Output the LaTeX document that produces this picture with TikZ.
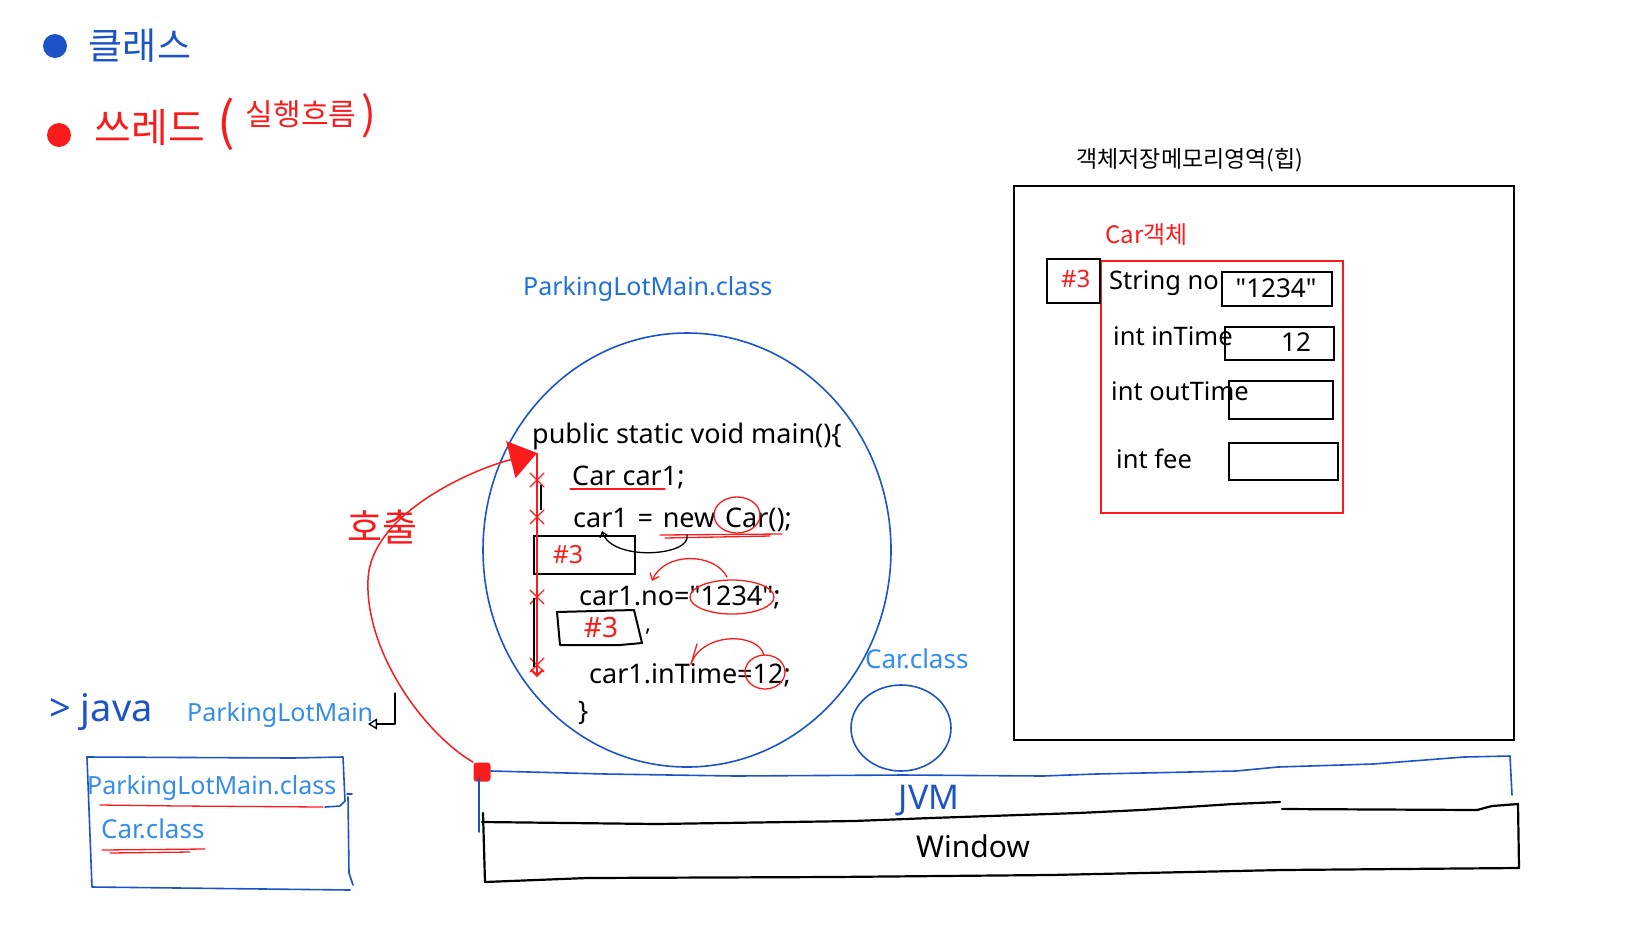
\documentclass[tikz,border=0pt]{standalone}
\usepackage{fontspec}
\setmainfont{Noto Sans}
\newfontfamily\cjk{Noto Sans CJK KR}
\usetikzlibrary{arrows.meta,shapes.geometric}
\definecolor{pblue}{RGB}{28,84,200}
\definecolor{tblue}{RGB}{32,112,220}
\definecolor{lblue}{RGB}{52,140,235}
\definecolor{pred}{RGB}{250,28,28}
\newcommand\myfs[1]{\fontsize{#1}{#1}\selectfont}
\newcommand\sdq{\XeTeXglyph\XeTeXcharglyph"22\relax}
\begin{document}
\begin{tikzpicture}[x=1pt,y=-1pt,
  code/.style={anchor=base west,inner sep=0pt,font=\myfs{25}},
  bigcode/.style={anchor=base west,inner sep=0pt,font=\myfs{27}},
  box/.style={draw,line width=2pt,anchor=north west,inner sep=0pt},
  hand/.style={inner sep=0pt},
  pen/.style={line width=1.6pt,line cap=round,line join=round},
  thinpen/.style={line width=1.3pt,line cap=round,line join=round}]
\useasboundingbox (0,0) rectangle (1648,927);

% ---- legend (handwritten)
\fill[pblue] (55,46) circle (12);
\node[hand,text=pblue,font=\cjk\myfs{37}] (klass) at (140,46) {클래스};
\fill[pred] (59,135) circle (12);
\node[hand,text=pred,font=\cjk\myfs{40}] (thread) at (150,128) {쓰레드};
\node[hand,text=pred,font=\cjk\myfs{52}] (lpar) at (226,124) {(};
\node[hand,text=pred,font=\cjk\myfs{30}] (flow) at (301,114) {실행흐름};
\node[hand,text=pred,font=\cjk\myfs{44}] (rpar) at (369,116) {)};

% ---- heap
\node[font=\cjk\myfs{23}] (heaptitle) at (1190,160) {객체저장메모리영역(힙)};
\node[box,minimum width=500,minimum height=554] (heap) at (1013,185) {};
\node[anchor=west,inner sep=0pt,font=\cjk\myfs{24},text=pred] (carobj) at (1105,235) {Car객체};
\node[box,draw=pred,minimum width=242,minimum height=252] (obj) at (1100,260) {};
\node[box,minimum width=53,minimum height=44] (ref3) at (1046,258) {};
\node[code,text=pred,font=\myfs{24}] (ref3t) at (1061,287) {\#3};
\node[code,font=\myfs{25.5}] (fno) at (1109,289) {String no};
\node[code,font=\myfs{25.5}] (fin) at (1113,345) {int inTime};
\node[code,font=\myfs{25.5}] (fout) at (1111,400) {int outTime};
\node[code,font=\myfs{25.5}] (ffee) at (1116,468) {int fee};
\node[box,minimum width=110,minimum height=34] (vno) at (1221,271) {};
\node[font=\myfs{26}] (vnot) at (1276,288) {\sdq 1234\sdq};
\node[box,minimum width=109,minimum height=33] (vin) at (1224,326) {};
\node[hand,font=\myfs{26}] (v12) at (1296,342) {12};
\node[box,minimum width=104,minimum height=38] (vout) at (1228,380) {};
\node[box,minimum width=109,minimum height=37] (vfee) at (1228,442) {};

% ---- main method circle
\node[code,text=tblue] (pmclass) at (523,295) {ParkingLotMain.class};
\node[draw=pblue,line width=1.6pt,ellipse,minimum width=408,minimum height=434,inner sep=0pt] (mainc) at (687,550) {};
\node[bigcode] (l1) at (532,443) {public static void main()\{};
\node[bigcode] (l2) at (572,485) {Car car1;};
\node[bigcode] (l3) at (573,527) {\spaceskip=0.36em\relax car1 = new Car();};
\node[box,minimum width=101,minimum height=38] (r1) at (533,535) {};
\node[text=pred,font=\myfs{25}] (r1t) at (568,555) {\#3};
\node[bigcode] (l4) at (579,605) {car1.no=\sdq 1234\sdq;};
\draw[thinpen,line width=2pt] (557,612) -- (634,610) -- (642,643) -- (620,645) -- (560,645) -- cycle;
\node[hand,text=pred,font=\myfs{28}] (r2t) at (601,627) {\#3};
\node[hand,font=\myfs{22}] (comma) at (648,632) {,};
\node[bigcode] (l5) at (589,683) {car1.inTime=12;};
\node[bigcode] (l6) at (578,720) {\}};

% red annotations in code
\draw[pred,thinpen] (570,489) -- (665,489);
\draw[pred,thinpen] (660,535) -- (782,534);
\draw[pred,thinpen] (665,538) -- (770,536);
\draw[pred,thinpen] (737,515) ellipse [x radius=23,y radius=18];
\draw[pred,thinpen] (732,597) ellipse [x radius=42,y radius=17];
\draw[pred,thinpen] (765,672) ellipse [x radius=20,y radius=17];
\coordinate (u1) at (687,535);
\coordinate (u2) at (602,531);
\draw[thinpen,-{Straight Barb[length=5pt,width=8pt]}] (u1) .. controls (692,556) and (612,562) .. (u2);
\coordinate (a1) at (727,577);
\coordinate (a2) at (652,581);
\draw[pred,thinpen,-{Straight Barb[length=6pt,width=10pt]}] (a1) .. controls (714,552) and (664,552) .. (a2);
\coordinate (b1) at (764,655);
\coordinate (b2) at (691,664);
\draw[pred,thinpen] (b1) .. controls (758,632) and (702,632) .. (b2);
\draw[pred,thinpen] (697,644) -- (691,664);

% ---- call arrow
\node[fill=pred,minimum width=17,minimum height=19,rounded corners=3pt,inner sep=0pt] (reddot) at (482,772) {};
\coordinate (tri) at (537,453);
\coordinate (vbot) at (537,677);
\draw[pred,line width=1.5pt,-{Triangle[length=27pt,width=38pt]}] (reddot.north west) .. controls (422,732) and (365,650) .. (368,580) .. controls (370,515) and (470,470) .. (tri);
\draw[pred,line width=2pt,-{Straight Barb[length=6pt,width=12pt]}] (tri) -- (vbot);
\foreach \yy in {480,517,597,665}
  \draw[pred,thinpen] (530,\yy-7) -- (544,\yy+7) (530,\yy+7) -- (544,\yy-7);
\draw[line width=1.5pt] (541,485) -- (541,510);
\draw[line width=2pt] (534,598) -- (534,667);
\node[hand,text=pred,font=\cjk\myfs{38}] (call) at (382,527) {호출};

% ---- small Car.class circle
\node[code,text=lblue,font=\myfs{26}] (ccl) at (865,668) {Car.class};
\node[draw=pblue,line width=1.6pt,ellipse,minimum width=100,minimum height=86,inner sep=0pt] (carc) at (901,728) {};

% ---- command line
\node[hand,text=pblue,font=\myfs{38}] (java) at (101,712) {> java};
\node[code,text=lblue] (pmain) at (187,721) {ParkingLotMain};
\coordinate (ret1) at (395,693);
\coordinate (ret2) at (395,724);
\coordinate (ret3) at (368,724);
\draw[thinpen,-{Triangle[open,length=9pt,width=11pt]}] (ret1) -- (ret2) -- (ret3);

% ---- class loader box
\draw[pblue,pen] (87,757) -- (293,758) -- (343,757) -- (345,801) -- (340,806) -- (325,807);
\draw[pblue,pen] (347,794) -- (352,794);
\draw[pblue,pen] (348,797) -- (349,873) -- (353,885);
\draw[pblue,pen] (350,890) -- (92,887) -- (87,757);
\node[code,text=lblue] (pmc2) at (87,794) {ParkingLotMain.class};
\draw[pred,thinpen] (100,805) -- (180,806) -- (323,807);
\node[code,text=lblue,font=\myfs{26}] (cc2) at (101,838) {Car.class};
\draw[pred,thinpen] (102,850) -- (205,849);
\draw[pred,thinpen] (110,853) -- (190,852);

% ---- JVM / Window
\draw[pblue,pen] (491,771) -- (605,774) -- (735,776) -- (903,775) -- (1043,776) -- (1096,774) -- (1236,771) -- (1278,767) -- (1373,764) -- (1464,757) -- (1510,756) -- (1512,795);
\draw[pblue,pen] (479,778) -- (479,832);
\node[hand,text=pblue,font=\myfs{34}] (jvm) at (929,801) {JVM};
\draw[line width=2.2pt,line cap=round,line join=round] (482,822) -- (657,824) -- (854,821) -- (931,818) -- (1078,813) -- (1141,810) -- (1233,804) -- (1280,802);
\draw[line width=2.2pt,line cap=round,line join=round] (1282,809) -- (1477,810) -- (1492,806) -- (1518,804) -- (1519,868) -- (1282,870) -- (1050,875) -- (833,877) -- (587,878) -- (485,882) -- (483,813);
\node[hand,font=\myfs{30}] (win) at (973,846) {Window};
\end{tikzpicture}
\end{document}
